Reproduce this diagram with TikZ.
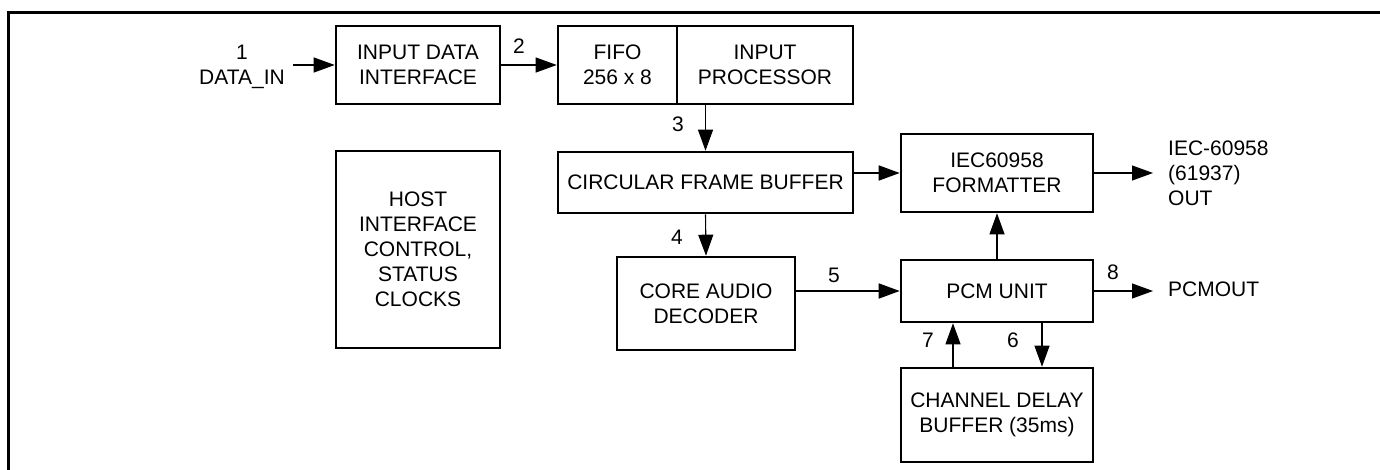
\documentclass[tikz,border=0pt]{standalone}
\usepackage{fontspec}
\setmainfont{Liberation Sans}
\usetikzlibrary{arrows.meta}
\begin{document}
\begin{tikzpicture}[x=1pt,y=-1pt,
  txt/.style={font=\fontsize{21}{25}\selectfont},
  blk/.style={txt,draw,line width=2.6pt,rectangle,inner sep=0pt,align=center},
  lbl/.style={txt,inner sep=0pt,align=center},
  arr/.style={line width=1.1pt,-{Triangle[length=21pt,width=15pt]}},
  tarr/.style={arr,line width=1.7pt}]
\useasboundingbox (0,0) rectangle (1380,470);
\fill[white] (0,0) rectangle (1380,470);
\draw[line width=3pt] (8,470) -- (8,13) -- (1380,13);

% blocks
\node[blk,minimum width=164pt,minimum height=78pt] (idi) at (418,65) {INPUT DATA\\INTERFACE};
\node[blk,minimum width=119pt,minimum height=78pt] (fifo) at (617.5,65) {FIFO\\256 x 8};
\node[blk,minimum width=176pt,minimum height=78pt] (ip) at (765,65) {INPUT\\PROCESSOR};
\node[blk,minimum width=295pt,minimum height=61pt] (cfb) at (705.5,182.5) {CIRCULAR FRAME BUFFER};
\node[blk,minimum width=192pt,minimum height=78pt] (iec) at (997,173) {IEC60958\\FORMATTER};
\node[blk,minimum width=192pt,minimum height=62pt] (pcm) at (997,291) {PCM UNIT};
\node[blk,minimum width=192pt,minimum height=94pt] (chan) at (997,415) {CHANNEL DELAY\\BUFFER (35ms)};
\node[blk,minimum width=178pt,minimum height=93pt] (core) at (706,303.5) {CORE AUDIO\\DECODER};
\node[blk,minimum width=164pt,minimum height=197pt] (host) at (418,249.5) {HOST\\INTERFACE\\CONTROL,\\STATUS\\CLOCKS};

% free ends
\coordinate (din) at (293,65);
\coordinate (iecout) at (1153,173);
\coordinate (pcmo) at (1153,291);
\coordinate (x7) at (953,0);
\coordinate (x6) at (1042,0);

% connectors
\draw[arr] (din) -- (idi.west);
\draw[arr] (idi.east) -- (fifo.west);
\draw[arr] (cfb.north |- ip.south) -- (cfb.north);
\draw[arr] (cfb.south) -- (core.north);
\draw[tarr] (cfb.east |- iec.west) -- (iec.west);
\draw[tarr] (core.east |- pcm.west) -- (pcm.west);
\draw[arr] (pcm.north) -- (iec.south);
\draw[arr] (iec.east) -- (iecout);
\draw[arr] (pcm.east) -- (pcmo);
\draw[arr] (x7 |- chan.north) -- (x7 |- pcm.south);
\draw[arr] (x6 |- pcm.south) -- (x6 |- chan.north);

% labels
\node[lbl] (l1) at (242,67) {1\\DATA\_IN};
\node[lbl] (l2) at (519,46) {2};
\node[lbl] (l3) at (678,124) {3};
\node[lbl] (l4) at (677,237) {4};
\node[lbl] (l5) at (834,275) {5};
\node[lbl] (l8) at (1113,272) {8};
\node[lbl] (l7) at (928,340) {7};
\node[lbl] (l6) at (1013,340) {6};
\node[lbl,anchor=west,align=left] (liec) at (1168,173) {IEC-60958\\(61937)\\OUT};
\node[lbl,anchor=west] (lpcm) at (1168,289) {PCMOUT};
\end{tikzpicture}
\end{document}
